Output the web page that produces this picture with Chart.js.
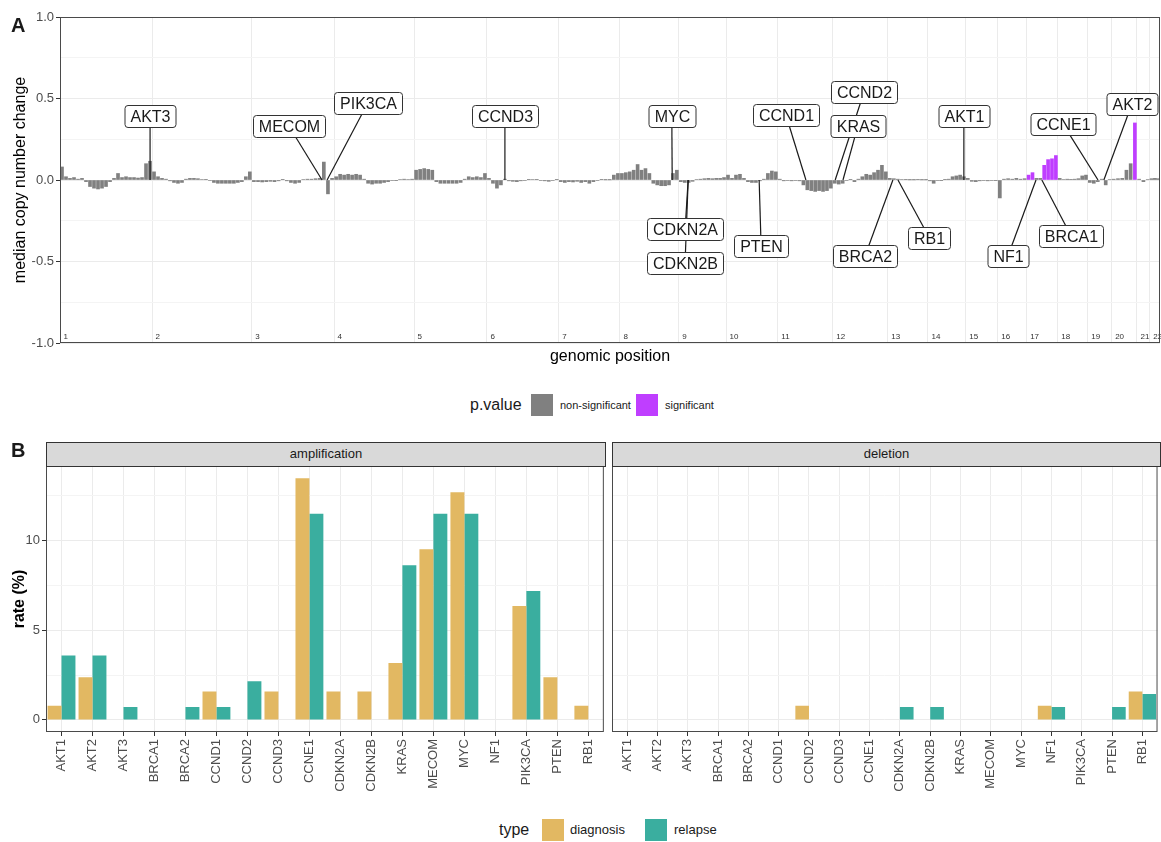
<!DOCTYPE html>
<html><head><meta charset="utf-8">
<script src="https://cdn.jsdelivr.net/npm/chart.js@4.4.0/dist/chart.umd.min.js"></script>
<style>
body{margin:0;background:#fff;width:1161px;height:842px;position:relative;overflow:hidden;font-family:"Liberation Sans",Arial,sans-serif;color:#1a1a1a;}
.abs{position:absolute;white-space:nowrap;}
canvas{position:absolute;}
.strip{position:absolute;background:#d9d9d9;border:1px solid #333;box-sizing:border-box;text-align:center;font-size:13px;line-height:22px;color:#1a1a1a;}
.key{position:absolute;width:22px;height:22px;}
.lt{position:absolute;line-height:22px;height:22px;white-space:nowrap;}
</style></head><body>
<canvas id="ca" width="1161" height="372" style="left:0;top:0"></canvas>
<canvas id="cb1" width="607" height="344" style="left:0;top:456px"></canvas>
<canvas id="cb2" width="555" height="344" style="left:606px;top:456px"></canvas>

<div class="abs" style="left:11px;top:15px;font-size:20px;line-height:20px;font-weight:bold">A</div>
<div class="abs" style="left:11px;top:440px;font-size:20px;line-height:20px;font-weight:bold">B</div>

<div class="lt" style="left:470px;top:394px;font-size:16px">p.value</div>
<div class="key" style="left:531px;top:394px;background:#808080"></div>
<div class="lt" style="left:560px;top:394px;font-size:11px">non-significant</div>
<div class="key" style="left:636px;top:394px;background:#bf3eff"></div>
<div class="lt" style="left:665px;top:394px;font-size:11px">significant</div>

<div class="strip" style="left:46px;top:442px;width:560px;height:25px">amplification</div>
<div class="strip" style="left:612px;top:442px;width:549px;height:25px">deletion</div>

<div class="lt" style="left:499px;top:819px;font-size:16px">type</div>
<div class="key" style="left:542px;top:819px;background:#e2b862"></div>
<div class="lt" style="left:570px;top:819px;font-size:13px">diagnosis</div>
<div class="key" style="left:645px;top:819px;background:#3aae9f"></div>
<div class="lt" style="left:674px;top:819px;font-size:13px">relapse</div>

<script>
const FONT = '"Liberation Sans", Arial, sans-serif';
Chart.defaults.font.family = FONT;

// ---------- Panel A data ----------
const chromosomes = ['1','2','3','4','5','6','7','8','9','10','11','12','13','14','15','16','17','18','19','20','21','22'];
const chrStart = [0, 236, 492, 703, 908, 1095, 1279, 1436, 1587, 1708, 1841, 1982, 2123, 2226, 2323, 2405, 2479, 2559, 2636, 2697, 2762, 2795];
const genomeEnd = 2821;

const cn1 = [0.08, 0.02, 0.01, 0.015, 0.005, 0.01, -0.01, -0.04, -0.05, -0.055, -0.05, -0.04, -0.01, 0.01, 0.04, 0.015, 0.02, 0.015, 0.015, 0.012, 0.015, 0.1, 0.115];
const cn2 = [0.05, 0.02, 0.01, 0.005, -0.005, -0.015, -0.02, -0.015, 0.005, 0.01, 0.01, 0.008, 0.003, 0.002, -0.003, -0.015, -0.02, -0.02, -0.02, -0.02, -0.02, -0.015, -0.01, 0.02, 0.05];
const cn3 = [-0.01, -0.01, -0.012, -0.01, -0.008, -0.01, -0.005, 0.002, -0.005, -0.015, -0.02, -0.015, 0.003, 0.005, 0.005, 0.008, 0.01, 0.11, -0.085, 0.01];
const cn4 = [0.02, 0.035, 0.03, 0.035, 0.03, 0.035, 0.03, 0.005, -0.02, -0.025, -0.02, -0.02, -0.015, -0.01, -0.003, -0.002, 0.003, 0.005, 0.003, 0.005];
const cn5 = [0.06, 0.065, 0.07, 0.065, 0.06, -0.01, -0.02, -0.02, -0.02, -0.02, -0.02, -0.015, 0.005, 0.02, 0.015, 0.02, 0.015, 0.04];
const cn6 = [0.01, -0.02, -0.05, -0.03, 0.005, -0.005, -0.008, -0.01, -0.005, -0.003, 0.002, 0.003, 0.002, -0.003, -0.005, -0.008, -0.003, 0.002];
const cn7 = [-0.01, -0.015, -0.01, -0.012, -0.008, -0.015, -0.01, -0.02, -0.01, -0.003, 0.002, 0.001, 0.001, 0.03, 0.04];
const cn8 = [0.04, 0.045, 0.05, 0.06, 0.095, 0.06, 0.07, 0.04, -0.02, -0.03, -0.035, -0.035, -0.03, 0.04, 0.06];
const cn9 = [-0.01, -0.015, -0.015, -0.008, 0.003, 0.005, 0.008, 0.01, 0.008, 0.01, 0.01, 0.015];
const cn10 = [0.03, 0.01, 0.03, 0.035, 0.01, -0.01, -0.015, -0.015, -0.005, 0.005, 0.04, 0.055, 0.05];
const cn11 = [0.005, -0.005, -0.003, -0.005, -0.003, -0.005, -0.03, -0.06, -0.065, -0.07, -0.065, -0.07, -0.065, -0.05];
const cn12 = [-0.02, -0.025, -0.02, -0.003, 0.002, -0.01, 0.005, 0.02, 0.035, 0.03, 0.045, 0.06, 0.09, 0.05];
const cn13 = [0.01, 0.008, 0.005, 0.003, 0.002, 0.001, 0.001, 0.002, 0.001, 0.001];
const cn14 = [-0.005, -0.02, -0.003, -0.002, 0.002, 0.005, 0.02, 0.025, 0.03, 0.02];
const cn15 = [0.01, -0.008, -0.01, -0.005, -0.003, -0.005, -0.003, -0.002];
const cn16 = [-0.11, 0.005, 0.008, 0.005, 0.01, 0.005, 0.008];
const cn17 = [0.03, 0.045, 0.01, 0.01, 0.09, 0.125, 0.13, 0.15];
const cn18 = [0.01, 0.003, 0.005, 0.002, 0.005, 0.008, 0.025, 0.03];
const cn19 = [-0.015, -0.02, -0.01, 0.005, -0.03, 0.003];
const cn20 = [0.005, 0.008, 0.01, 0.06, 0.1, 0.35];
const cn21 = [0.005, -0.01, 0.003];
const cn22 = [0.008, 0.01, 0.008];
const copyNumber = [cn1,cn2,cn3,cn4,cn5,cn6,cn7,cn8,cn9,cn10,cn11,cn12,cn13,cn14,cn15,cn16,cn17,cn18,cn19,cn20,cn21,cn22];
const sigChr17 = [0, 1, 4, 5, 6, 7];
const sigChr20 = [5];
const significantBins = {17: sigChr17, 20: sigChr20};

const labelGenes = ['AKT3','MECOM','PIK3CA','CCND3','MYC','CDKN2A','CDKN2B','PTEN','CCND1','CCND2','KRAS','BRCA2','RB1','AKT1','NF1','BRCA1','CCNE1','AKT2'];
const genePosition = [231, 672, 685, 1141, 1570, 1611, 1611, 1793, 1913, 1988, 2008, 2136, 2149, 2318, 2503, 2518, 2662, 2677];
const labelX = [231, 587, 790, 1141, 1569, 1603, 1603, 1798, 1862, 2062, 2046, 2064, 2229, 2318, 2431, 2593, 2572, 2749];
const labelY = [0.393, 0.331, 0.475, 0.393, 0.393, -0.301, -0.509, -0.402, 0.396, 0.540, 0.331, -0.469, -0.353, 0.393, -0.466, -0.344, 0.344, 0.466];
const cnTicks = [-1, -0.75, -0.5, -0.25, 0, 0.25, 0.5, 0.75, 1];

// ---------- Panel B data ----------
const rateGenes = ['AKT1','AKT2','AKT3','BRCA1','BRCA2','CCND1','CCND2','CCND3','CCNE1','CDKN2A','CDKN2B','KRAS','MECOM','MYC','NF1','PIK3CA','PTEN','RB1'];
const ampDiagnosis = [0.79, 2.38, 0, 0, 0, 1.59, 0, 1.59, 13.49, 1.59, 1.59, 3.17, 9.52, 12.7, 0, 6.35, 2.38, 0.79];
const ampRelapse   = [3.6, 3.6, 0.72, 0, 0.72, 0.72, 2.16, 0, 11.51, 0, 0, 8.63, 11.51, 11.51, 0, 7.19, 0, 0];
const delDiagnosis = [0, 0, 0, 0, 0, 0, 0.79, 0, 0, 0, 0, 0, 0, 0, 0.79, 0, 0, 1.59];
const delRelapse   = [0, 0, 0, 0, 0, 0, 0, 0, 0, 0.72, 0.72, 0, 0, 0, 0.72, 0, 0.72, 1.44];
const rateTicks = [0, 2.5, 5, 7.5, 10, 12.5];

// ---------- build bar points ----------
const nsPoints = [], sigPoints = [];
copyNumber.forEach((vals, c) => {
  const start = chrStart[c];
  const end = c + 1 < chrStart.length ? chrStart[c + 1] : genomeEnd;
  const w = (end - start) / vals.length;
  const sig = significantBins[c + 1] || [];
  vals.forEach((v, i) => {
    const pt = {x: start + (i + 0.5) * w, y: v};
    (sig.includes(i) ? sigPoints : nsPoints).push(pt);
  });
});

const panelBorder = {
  id: 'panelBorder',
  afterDraw(chart) {
    const {ctx, chartArea: a} = chart;
    ctx.save();
    ctx.strokeStyle = '#4a4a4a'; ctx.lineWidth = 1;
    ctx.strokeRect(a.left + 0.5, a.top + 0.5, a.right - a.left - 1, a.bottom - a.top - 1);
    ctx.restore();
  }
};

const chromLabels = {
  id: 'chromLabels',
  afterDatasetsDraw(chart) {
    const {ctx, chartArea: a, scales: {x}} = chart;
    ctx.save();
    ctx.font = '8px ' + FONT; ctx.fillStyle = '#333'; ctx.textAlign = 'left'; ctx.textBaseline = 'alphabetic';
    chromosomes.forEach((c, i) => ctx.fillText(c, x.getPixelForValue(chrStart[i]) + 3.5, a.bottom - 4.5));
    ctx.restore();
  }
};

const geneLabels = {
  id: 'geneLabels',
  afterDatasetsDraw(chart) {
    const {ctx, scales: {x, y}} = chart;
    ctx.save();
    ctx.strokeStyle = '#1a1a1a'; ctx.lineWidth = 1.2;
    labelGenes.forEach((g, i) => {
      ctx.beginPath();
      ctx.moveTo(x.getPixelForValue(genePosition[i]), y.getPixelForValue(0));
      ctx.lineTo(x.getPixelForValue(labelX[i]), y.getPixelForValue(labelY[i]));
      ctx.stroke();
    });
    ctx.font = '16px ' + FONT; ctx.textAlign = 'center'; ctx.textBaseline = 'middle';
    labelGenes.forEach((g, i) => {
      const cx = Math.round(x.getPixelForValue(labelX[i])), cy = Math.round(y.getPixelForValue(labelY[i]));
      const w = Math.round(ctx.measureText(g).width + 11), h = 22;
      ctx.beginPath();
      ctx.roundRect(cx - w / 2 + 0.5, cy - h / 2 + 0.5, w, h, 3);
      ctx.fillStyle = '#fff'; ctx.fill();
      ctx.strokeStyle = '#333'; ctx.lineWidth = 1; ctx.stroke();
      ctx.fillStyle = '#1a1a1a'; ctx.fillText(g, cx + 0.5, cy + 1.5);
    });
    ctx.restore();
  }
};

const isHalf = v => Math.abs(v * 2 - Math.round(v * 2)) < 1e-6;

new Chart(document.getElementById('ca'), {
  type: 'bar',
  data: {datasets: [
    {label: 'non-significant', data: nsPoints, backgroundColor: '#808080', barThickness: 3, grouped: false},
    {label: 'significant', data: sigPoints, backgroundColor: '#bf3eff', barThickness: 3, grouped: false}
  ]},
  options: {
    responsive: false, animation: false, events: [],
    layout: {padding: {top: 17, right: 1, left: 0, bottom: 0}},
    plugins: {legend: {display: false}, tooltip: {enabled: false}},
    scales: {
      x: {
        type: 'linear', min: 0, max: genomeEnd, offset: false,
        afterBuildTicks: s => { s.ticks = chrStart.map(v => ({value: v})); },
        ticks: {display: false},
        grid: {color: '#ebebeb', drawTicks: false, offset: false},
        border: {display: false},
        title: {display: true, text: 'genomic position', font: {size: 16}, color: '#000', padding: {top: 0, bottom: 6}},
        afterFit: s => { s.height = 29; }
      },
      y: {
        min: -1, max: 1,
        afterBuildTicks: s => { s.ticks = cnTicks.map(v => ({value: v})); },
        ticks: {font: {size: 13}, color: '#4d4d4d', padding: 2, callback: v => isHalf(v) ? v.toFixed(1) : ''},
        grid: {
          color: c => isHalf(c.tick.value) ? '#ebebeb' : '#f4f4f4',
          tickColor: c => isHalf(c.tick.value) ? '#333' : 'rgba(0,0,0,0)',
          tickLength: 4
        },
        border: {display: false},
        title: {display: true, text: 'median copy number change', font: {size: 16}, color: '#000', padding: {top: 11}},
        afterFit: s => { s.width = 60; }
      }
    }
  },
  plugins: [chromLabels, geneLabels, panelBorder]
});

function rateChart(id, diag, rel, showY) {
  return new Chart(document.getElementById(id), {
    type: 'bar',
    data: {labels: rateGenes, datasets: [
      {label: 'diagnosis', data: diag, backgroundColor: '#e2b862'},
      {label: 'relapse', data: rel, backgroundColor: '#3aae9f'}
    ]},
    options: {
      responsive: false, animation: false, events: [],
      datasets: {bar: {categoryPercentage: 0.9, barPercentage: 1.0}},
      layout: {padding: {top: 10, right: showY ? 2 : 1, left: 0, bottom: 0}},
      plugins: {legend: {display: false}, tooltip: {enabled: false}},
      scales: {
        x: {
          type: 'category', offset: true,
          ticks: {autoSkip: false, maxRotation: 90, minRotation: 90, font: {size: 13}, color: '#4d4d4d', padding: 3},
          grid: {offset: false, color: '#ebebeb', tickColor: '#333', tickLength: 4},
          border: {display: false},
          afterFit: s => { s.height = 68; }
        },
        y: {
          min: -0.675, max: 14.17,
          afterBuildTicks: s => { s.ticks = rateTicks.map(v => ({value: v})); },
          ticks: {display: showY, font: {size: 13}, color: '#4d4d4d', padding: 2, callback: v => (v % 5 === 0 ? String(v) : '')},
          grid: {
            color: c => c.tick.value % 5 === 0 ? '#ebebeb' : '#f4f4f4',
            tickColor: c => (showY && c.tick.value % 5 === 0) ? '#333' : 'rgba(0,0,0,0)',
            tickLength: 4
          },
          border: {display: false},
          title: {display: showY, text: 'rate (%)', font: {size: 16, weight: 'bold'}, color: '#000', padding: {top: 10}},
          afterFit: s => { s.width = showY ? 46 : 6; }
        }
      }
    },
    plugins: [panelBorder]
  });
}
rateChart('cb1', ampDiagnosis, ampRelapse, true);
rateChart('cb2', delDiagnosis, delRelapse, false);
</script>
</body></html>
